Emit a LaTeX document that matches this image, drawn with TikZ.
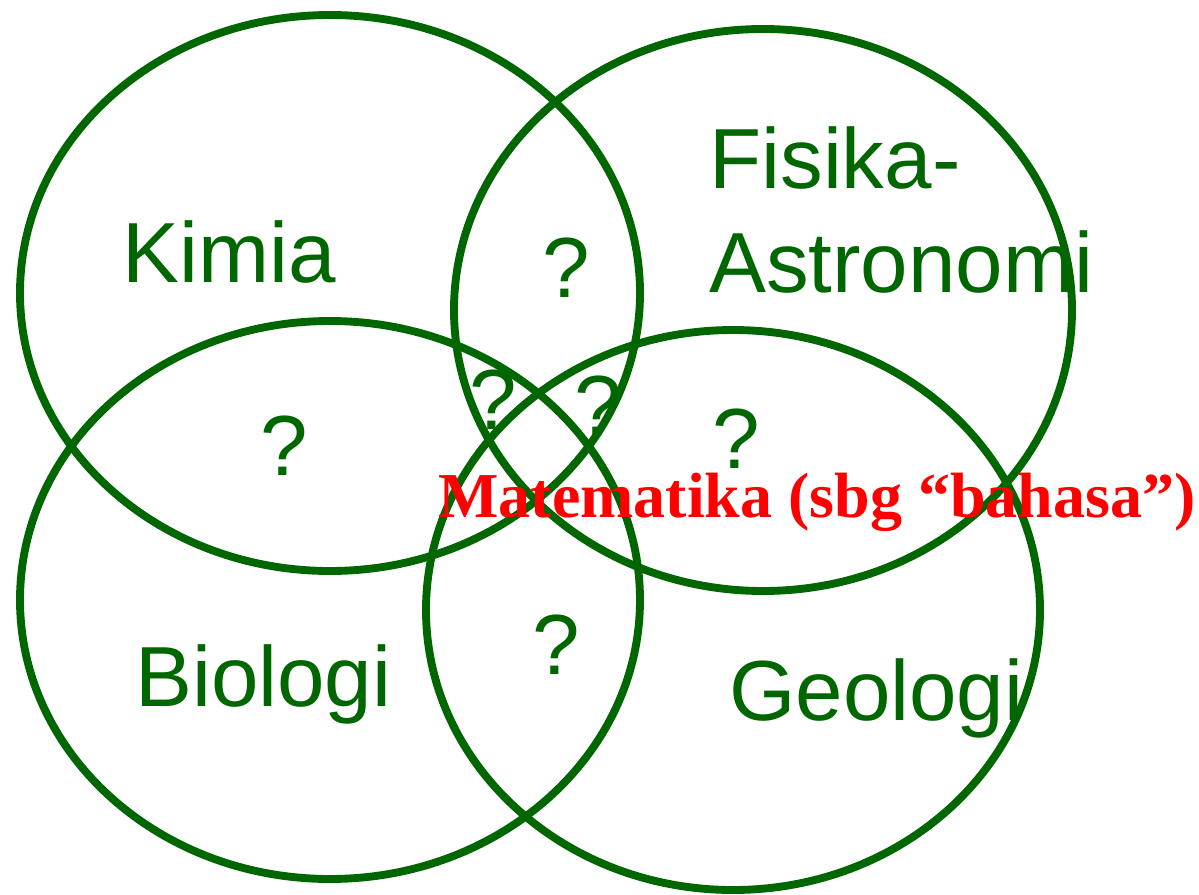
\documentclass[tikz,border=0pt]{standalone}
\usepackage{fontspec}
\setmainfont{Liberation Sans}
\newfontfamily\bahasafont{Liberation Serif}
\usetikzlibrary{positioning}
\definecolor{venngreen}{RGB}{0,102,0}

\begin{document}
\begin{tikzpicture}[x=0.75pt,y=-0.75pt,
  ring/.style={draw=venngreen,line width=5.9pt},
  field/.style={text=venngreen,inner sep=0pt,font=\fontsize{64}{78}\selectfont},
  ask/.style={field,anchor=base}]
\useasboundingbox (0,0) rectangle (1199,895);

% the four fields
\draw[ring] (330,293) ellipse (310 and 278);
\draw[ring] (763,310) ellipse (309 and 281);
\draw[ring] (330,600) ellipse (310 and 279);
\draw[ring] (733,610) ellipse (307 and 280);

% names of the fields
\node[field,anchor=base west] (kimia) at (122,282) {Kimia};
\node[field,anchor=base west,align=left] (fisika) at (709,292) {Fisika-\\Astronomi};
\node[field,anchor=base west] (biologi) at (135,706) {Biologi};
\node[field,anchor=base west] (geologi) at (729,720) {Geologi};

% the overlaps
\node[ask] (kf) at (566,297) {?};
\node[ask] (kb) at (284,475) {?};
\node[ask] (kbg) at (493,429) {?};
\node[ask] (kfg) at (598,435) {?};
\node[ask] (fg) at (736,468) {?};
\node[ask] (bg) at (556,674) {?};

% common language
\node[text=red,inner sep=0pt,anchor=base west,
  font=\bahasafont\bfseries\fontsize{48}{58}\selectfont] (matematika) at (438,517)
  {Matematika (sbg “bahasa”)};

\end{tikzpicture}
\end{document}
